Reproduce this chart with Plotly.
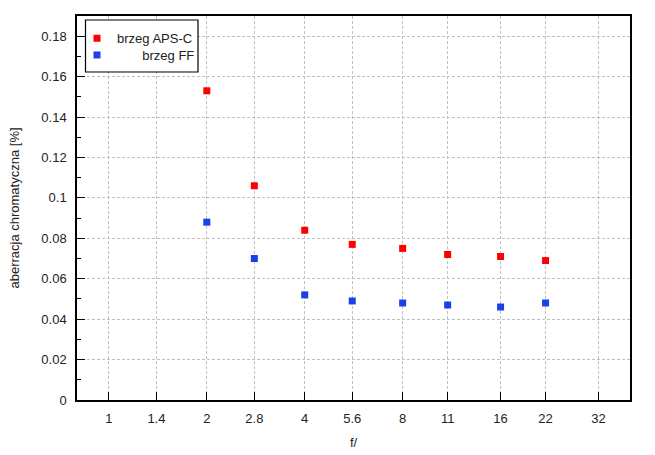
import plotly.graph_objects as go

apertures = [2, 2.8, 4, 5.6, 8, 11, 16, 22]
aps_c = [0.153, 0.106, 0.084, 0.077, 0.075, 0.072, 0.071, 0.069]
ff = [0.088, 0.070, 0.052, 0.049, 0.048, 0.047, 0.046, 0.048]
x_ticks = [1, 1.4, 2, 2.8, 4, 5.6, 8, 11, 16, 22, 32]
x_tick_text = ["1", "1.4", "2", "2.8", "4", "5.6", "8", "11", "16", "22", "32"]

W, H = 655, 455
L, R, T, B = 77, 25, 16, 55
PW, PH = W - L - R, H - T - B


def px_x(p):
    return (p - L) / PW


def px_y(p):
    return 1 - (p - T) / PH


NB = "\u00a0"
fig = go.Figure()
fig.add_trace(go.Scatter(x=apertures, y=aps_c, mode="markers", name="brzeg APS-C",
                         legend="legend",
                         marker=dict(symbol="square", size=7, color="#ff0000")))
fig.add_trace(go.Scatter(x=apertures, y=ff, mode="markers", name=NB * 7 + "brzeg FF",
                         legend="legend2",
                         marker=dict(symbol="square", size=7, color="#1a40e8")))

axis_common = dict(showline=True, linecolor="black", linewidth=1.5, mirror=True,
                   showgrid=True, gridcolor="#c0c0c0", griddash="3px,2px", gridwidth=1,
                   ticks="inside", ticklen=8, tickcolor="black", tickwidth=1,
                   zeroline=False, automargin=False, tickfont=dict(color="#222", size=13))

leg_common = dict(xanchor="left", yanchor="middle", bgcolor="rgba(0,0,0,0)", borderwidth=0,
                  font=dict(size=13, color="#222"))

fig.update_layout(
    width=W, height=H,
    margin=dict(l=L, r=R, t=T, b=B, autoexpand=False),
    paper_bgcolor="white", plot_bgcolor="white",
    font=dict(family="Liberation Sans, Arial, sans-serif", size=13, color="#222"),
    xaxis=dict(type="log", range=[-0.098, 1.602], tickvals=x_ticks, ticktext=x_tick_text,
               ticklabelstandoff=6,
               title=dict(text="f/", standoff=13, font=dict(size=13)), **axis_common),
    yaxis=dict(range=[0, 0.19], dtick=0.02, tick0=0,
               title=dict(text="aberracja chromatyczna [%]", standoff=19, font=dict(size=13)),
               ticklabelstandoff=6,
               minor=dict(dtick=0.01, ticks="inside", ticklen=4, tickcolor="black", showgrid=False),
               **axis_common),
    legend=dict(x=px_x(77), y=px_y(38.3), **leg_common),
    legend2=dict(x=px_x(77), y=px_y(55), **leg_common),
    showlegend=True,
    shapes=[dict(type="rect", xref="paper", yref="paper",
                 x0=px_x(85.5), x1=px_x(198), y0=px_y(72), y1=px_y(20),
                 line=dict(color="black", width=1.2), fillcolor="white", layer="above")],
)

fig.write_html("out.html")
